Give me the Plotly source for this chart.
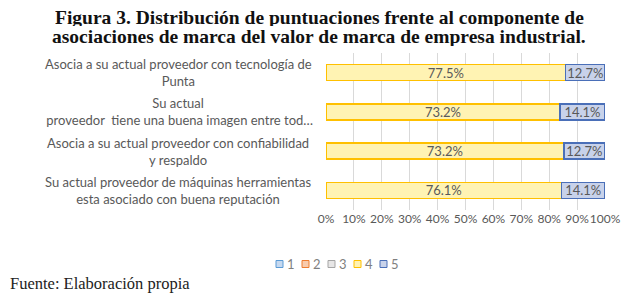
import plotly.graph_objects as go

categories = [
    "Asocia a su actual proveedor con tecnología de<br>Punta",
    "Su actual<br> proveedor  tiene una buena imagen entre tod…",
    "Asocia a su actual proveedor con confiabilidad<br>y respaldo",
    "Su actual proveedor de máquinas herramientas<br>esta asociado con buena reputación",
]
series_names = ["1", "2", "3", "4", "5"]
s1 = [0, 0, 0, 0]
s2 = [0, 0, 0, 0]
s3 = [0, 0, 0, 0]
s4 = [77.5, 73.2, 73.2, 76.1]
s5 = [12.7, 14.1, 12.7, 14.1]
values = [s1, s2, s3, s4, s5]
x_ticks = list(range(0, 101, 10))
title_lines = [
    "Figura 3. Distribución de puntuaciones frente al componente de",
    "asociaciones de marca del valor de marca de empresa industrial.",
]
source_text = "Fuente: Elaboración propia"

fills = ["#C6D9F0", "#F8CBAD", "#E7E6E6", "#FFF3B3", "#C8D2EA"]
borders = ["#5B9BD5", "#ED7D31", "#A5A5A5", "#FFC000", "#4A6FB8"]

# The page body has an 8px default margin; lay out in screen pixels.
OFF = 8
W, H = 633 - OFF, 296 - OFF
PLOT_L, PLOT_R, PLOT_T, PLOT_B = 326, 605, 53, 210  # screen pixels
L, T = PLOT_L - OFF, PLOT_T - OFF
R, B = W - (PLOT_R - OFF), H - (PLOT_B - OFF)
PW, PH = PLOT_R - PLOT_L, PLOT_B - PLOT_T


def px_x(px):
    return (px - PLOT_L) / PW


def px_y(py):
    return (PLOT_B - py) / PH


fig = go.Figure()
for name, vals, fc, bc in zip(series_names, values, fills, borders):
    show_text = any(v > 0 for v in vals)
    fig.add_trace(go.Bar(
        y=categories, x=vals, name=name, orientation="h",
        marker=dict(color=fc, line=dict(color=bc, width=1.5)),
        text=[f"{v}%" for v in vals] if show_text else None,
        textposition="inside" if show_text else "none",
        insidetextanchor="middle", textangle=0, constraintext="none",
        textfont=dict(family="Lato", size=13, color="#595959"),
        hoverinfo="skip", showlegend=False,
    ))

# category labels (centered, Excel-style)
for cat in categories:
    fig.add_annotation(
        x=px_x(178), xref="paper", y=cat, yref="y", text=cat,
        showarrow=False, xanchor="center", align="center",
        font=dict(family="Lato", size=13, color="#595959"),
    )

# title lines (box centre in screen px, box height)
for line, cy, hh in zip(title_lines, [17, 36], [18, 20]):
    fig.add_annotation(
        x=px_x(319), xref="paper", y=px_y(cy), yref="paper",
        text=f"<b>{line}</b>", showarrow=False,
        xanchor="center", yanchor="middle", height=hh, valign="middle",
        font=dict(family="Liberation Serif", size=19.5, color="#111111"),
    )

# source note
fig.add_annotation(
    x=px_x(OFF), xref="paper", y=px_y(283), yref="paper", text=source_text,
    showarrow=False, xanchor="left", yanchor="middle",
    font=dict(family="Liberation Serif", size=16.5, color="#222222"),
)

# legend (Excel-style compact)
for i, (name, fc, bc) in enumerate(zip(series_names, fills, borders)):
    x0 = 276 + 26 * i
    fig.add_shape(
        type="rect", xref="paper", yref="paper",
        x0=px_x(x0), x1=px_x(x0 + 7), y0=px_y(267.5), y1=px_y(260.5),
        fillcolor=fc, line=dict(color=bc, width=1),
    )
    fig.add_annotation(
        x=px_x(x0 + 9), xref="paper", y=px_y(264), yref="paper", text=name,
        showarrow=False, xanchor="left", yanchor="middle",
        font=dict(family="Lato", size=13, color="#7F7F7F"),
    )

fig.update_layout(
    width=W, height=H,
    margin=dict(l=L, r=R, t=T, b=B, autoexpand=False),
    paper_bgcolor="white", plot_bgcolor="white",
    barmode="stack", barnorm="percent", bargap=0.59,
    xaxis=dict(
        range=[0, 100], tickvals=x_ticks, ticktext=[f"{t}%" for t in x_ticks],
        showgrid=True, gridcolor="#D9D9D9", gridwidth=1, zeroline=False,
        showline=False, ticks="", tickangle=0,
        tickfont=dict(family="Lato", size=12, color="#595959"),
    ),
    yaxis=dict(
        categoryorder="array", categoryarray=categories, autorange="reversed",
        showticklabels=False, showgrid=False, zeroline=False, ticks="",
    ),
    showlegend=False,
)

fig.write_html("out.html")
